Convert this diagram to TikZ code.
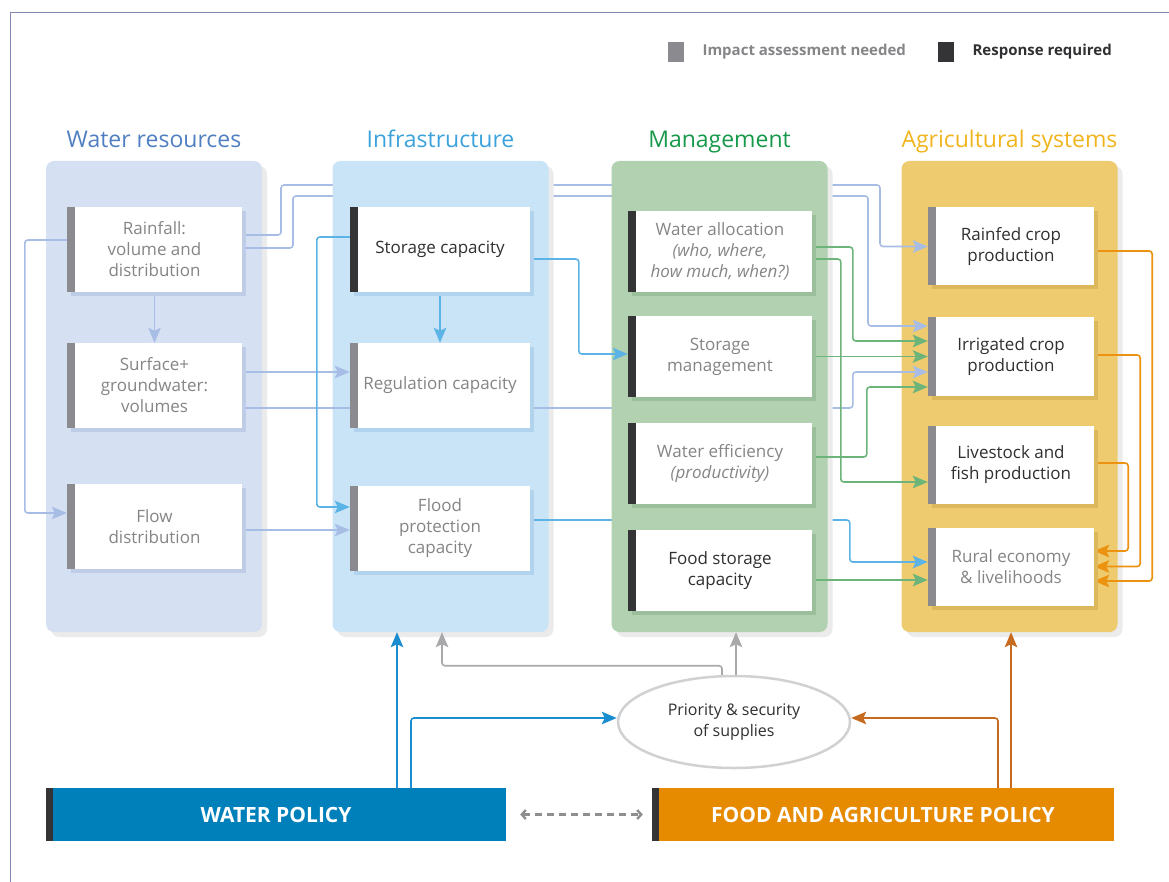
\documentclass[tikz,border=0pt]{standalone}
\usepackage{fontspec}
\setmainfont{Open Sans}
\usetikzlibrary{positioning,arrows.meta,calc,shapes.geometric,shadows}

\definecolor{framec}{HTML}{8088B0}
\definecolor{impactc}{HTML}{8B8A8F}
\definecolor{respc}{HTML}{343335}
\definecolor{greytext}{HTML}{858588}
\definecolor{darktext}{HTML}{303032}
\definecolor{wrtitle}{HTML}{4F7FC1}
\definecolor{wrpanel}{HTML}{D5E0F2}
\definecolor{wrshade}{HTML}{BFCCE6}
\definecolor{intitle}{HTML}{3BA2DC}
\definecolor{inpanel}{HTML}{C9E4F7}
\definecolor{inshade}{HTML}{B2D3EE}
\definecolor{mgtitle}{HTML}{17994A}
\definecolor{mgpanel}{HTML}{B2D1B0}
\definecolor{mgshade}{HTML}{9CBF9B}
\definecolor{agtitle}{HTML}{F0B41C}
\definecolor{agpanel}{HTML}{EFCB6F}
\definecolor{agshade}{HTML}{DDB75C}
\definecolor{wrline}{HTML}{A8BDE6}
\definecolor{infline}{HTML}{5CB3E6}
\definecolor{mgline}{HTML}{6CB47A}
\definecolor{agline}{HTML}{EB9211}
\definecolor{wpolc}{HTML}{0080BB}
\definecolor{fpolc}{HTML}{E68A00}
\definecolor{wpolline}{HTML}{1A8CD0}
\definecolor{fpolline}{HTML}{C56A1F}
\definecolor{prioline}{HTML}{A9A9AB}
\definecolor{priodraw}{HTML}{D0D1D3}
\definecolor{dashc}{HTML}{8E8E91}

\pgfdeclarelayer{outerpanels}
\pgfdeclarelayer{farwires}
\pgfdeclarelayer{infrapanel}
\pgfdeclarelayer{midwires}
\pgfdeclarelayer{mgmtpanel}
\pgfdeclarelayer{wires}
\pgfsetlayers{outerpanels,farwires,infrapanel,midwires,mgmtpanel,wires,main}

\tikzset{
    x=1pt,
    y=-1pt,
    on grid,
    >={Stealth[length=15pt,width=12.5pt,inset=3pt]},
    panel/.style = {
        shape=rectangle,
        fill=#1,
        rounded corners=8pt,
        minimum width=216pt,
        minimum height=471pt,
        general shadow={fill=black!8, shadow xshift=5pt, shadow yshift=-5pt}
    },
    title/.style = {
        text=#1,
        anchor=base,
        font=\fontsize{23}{27}\selectfont
    },
    block/.style = {
        shape=rectangle,
        fill=white,
        align=center,
        inner sep=0pt,
        font=\fontsize{17}{21}\selectfont,
        general shadow={fill=#1, shadow xshift=4pt, shadow yshift=-4pt}
    },
    wrbox/.style = {block=wrshade, minimum width=175pt, minimum height=85pt},
    inbox/.style = {block=inshade, minimum width=180pt, minimum height=85pt},
    mgbox/.style = {block=mgshade, minimum width=184pt, minimum height=81pt},
    agbox/.style = {block=agshade, minimum width=166pt, minimum height=78pt},
    impact/.style = {
        path picture={\fill[impactc] (path picture bounding box.north west)
            rectangle ([xshift=8pt]path picture bounding box.south west);}
    },
    response/.style = {
        path picture={\fill[respc] (path picture bounding box.north west)
            rectangle ([xshift=8pt]path picture bounding box.south west);}
    },
    key/.style = {
        fill=#1,
        minimum width=16pt,
        minimum height=20pt,
        inner sep=0pt
    },
    legend/.style = {
        anchor=west,
        text=#1,
        font=\fontsize{15}{18}\selectfont\bfseries
    },
    policy/.style = {
        shape=rectangle,
        fill=#1,
        text=white,
        minimum height=53pt,
        font=\fontsize{21}{24}\selectfont\bfseries,
        path picture={\fill[respc] (path picture bounding box.north west)
            rectangle ([xshift=7pt]path picture bounding box.south west);}
    },
    prio/.style = {
        shape=ellipse,
        draw=priodraw,
        line width=2.5pt,
        fill=white,
        align=center,
        text=darktext,
        minimum width=232pt,
        minimum height=92pt,
        font=\fontsize{16}{21}\selectfont
    },
    wire/.style = {
        draw=#1,
        line width=1.6pt,
        rounded corners=3pt,
        ->
    },
}

\begin{document}
\begin{tikzpicture}
    \useasboundingbox (0,0) rectangle (1169,882);
    \draw[framec, line width=1pt] (10,882) |- (1169,13);

    \node[key=impactc] (impkey) at (676,52) {};
    \node[legend=greytext] (implabel) at (699,52) {Impact assessment needed};
    \node[key=respc] (reskey) at (946,52) {};
    \node[legend=darktext] (reslabel) at (969,52) {Response required};

    \begin{pgfonlayer}{outerpanels}
        \node[panel=wrpanel] (wpanel) at (154,396.5) {};
        \node[panel=agpanel] (apanel) at (1009.5,396.5) {};
    \end{pgfonlayer}
    \begin{pgfonlayer}{infrapanel}
        \node[panel=inpanel] (ipanel) at (440.5,396.5) {};
    \end{pgfonlayer}
    \begin{pgfonlayer}{mgmtpanel}
        \node[panel=mgpanel] (mpanel) at (719.5,396.5) {};
    \end{pgfonlayer}

    \node[title=wrtitle] (wtitle) at ([yshift=13pt]wpanel.north) {Water resources};
    \node[title=intitle] (ititle) at ([yshift=13pt]ipanel.north) {Infrastructure};
    \node[title=mgtitle] (mtitle) at ([yshift=13pt]mpanel.north) {Management};
    \node[title=agtitle] (atitle) at ([yshift=13pt]apanel.north) {Agricultural systems};

    \node[wrbox, impact, text=greytext] (rain) at (154.5,249.5) {Rainfall:\\volume and\\distribution};
    \node[wrbox, impact, text=greytext, below=136pt of rain] (surf) {Surface+\\groundwater:\\volumes};
    \node[wrbox, impact, text=greytext, below=141pt of surf] (flow) {Flow\\distribution};

    \node[inbox, response, text=darktext] (stor) at (440,249.5) {Storage capacity};
    \node[inbox, impact, text=greytext, below=136pt of stor] (regu) {Regulation capacity};
    \node[inbox, impact, text=greytext, below=143pt of regu] (flood) {Flood\\protection\\capacity};

    \node[mgbox, response, text=greytext] (alloc) at (720,251.5) {Water allocation\\\textit{(who, where,}\\\textit{how much, when?)}};
    \node[mgbox, response, text=greytext, below=105pt of alloc] (smgmt) {Storage\\management};
    \node[mgbox, response, text=greytext, below=107pt of smgmt] (eff) {Water efficiency\\\textit{(productivity)}};
    \node[mgbox, response, text=darktext, below=107pt of eff] (food) {Food storage\\capacity};

    \node[agbox, impact, text=darktext] (rainfed) at (1011,246.5) {Rainfed crop\\production};
    \node[agbox, impact, text=darktext, below=110pt of rainfed] (irrig) {Irrigated crop\\production};
    \node[agbox, impact, text=darktext, below=108.5pt of irrig] (live) {Livestock and\\fish production};
    \node[agbox, impact, text=greytext, below=101.5pt of live] (rural) {Rural economy\\\& livelihoods};

    \node[policy=wpolc, minimum width=460pt] (wpol) at (276,814.5) {WATER POLICY};
    \node[policy=fpolc, minimum width=462pt] (fpol) at (883,814.5) {FOOD AND AGRICULTURE POLICY};
    \node[prio] (prio) at (734,722) {Priority \& security\\of supplies};

    \begin{pgfonlayer}{farwires}
        \draw[wire=wrline] ([yshift=14.5pt]rain.east) -| (281,185) -- (880,185) |- (rainfed.west);
        \draw[wire=wrline] ([yshift=1.5pt]rain.east) -| (293,196) -- (868,196) |- ([yshift=30.5pt]irrig.west);
    \end{pgfonlayer}
    \begin{pgfonlayer}{midwires}
        \draw[wire=wrline] ([yshift=-22.5pt]surf.east) -| ([xshift=-75pt,yshift=-15.5pt]irrig.west) -- ([yshift=-15.5pt]irrig.west);
        \draw[wire=infline] ([yshift=8.5pt]flood.east) -| ([xshift=-78pt,yshift=4.5pt]rural.west) -- ([yshift=4.5pt]rural.west);
    \end{pgfonlayer}
    \begin{pgfonlayer}{wires}
        \draw[wire=wrline] (rain.south) -- (surf.north);
        \draw[wire=wrline] ([yshift=9.5pt]rain.west) -| ([xshift=-42pt,yshift=13.5pt]flow.west) -- ([yshift=13.5pt]flow.west);
        \draw[wire=wrline] ([yshift=13.5pt]surf.east) -- ([yshift=13.5pt]regu.west);
        \draw[wire=wrline] ([yshift=-3.5pt]flow.east) -- ([yshift=-1.5pt]flood.west);

        \draw[wire=infline] (stor.south) -- (regu.north);
        \draw[wire=infline] ([yshift=12.5pt]stor.west) -| ([xshift=-33pt,yshift=21.5pt]flood.west) -- ([yshift=21.5pt]flood.west);
        \draw[wire=infline] ([yshift=-9.5pt]stor.east) -| ([xshift=-49pt,yshift=2.5pt]smgmt.west) -- ([yshift=2.5pt]smgmt.west);

        \draw[wire=mgline] ([yshift=4.5pt]alloc.east) -| ([xshift=-75pt,yshift=15.5pt]irrig.west) -- ([yshift=15.5pt]irrig.west);
        \draw[wire=mgline] ([yshift=-7.5pt]alloc.east) -| ([xshift=-87pt,yshift=-17pt]live.west) -- ([yshift=-17pt]live.west);
        \draw[wire=mgline] (smgmt.east) -- (irrig.west);
        \draw[wire=mgline] ([yshift=6.5pt]eff.east) -| ([xshift=-61pt,yshift=-30.5pt]irrig.west) -- ([yshift=-30.5pt]irrig.west);
        \draw[wire=mgline] ([yshift=-9.5pt]food.east) -- ([yshift=-13.5pt]rural.west);

        \draw[wire=agline] ([yshift=-4.5pt]rainfed.east) -| ([xshift=58pt,yshift=-14.5pt]rural.east) -- ([yshift=-14.5pt]rural.east);
        \draw[wire=agline] ([yshift=1.5pt]irrig.east) -| ([xshift=46pt]rural.east) -- (rural.east);
        \draw[wire=agline] ([yshift=2pt]live.east) -| ([xshift=34pt,yshift=15.5pt]rural.east) -- ([yshift=15.5pt]rural.east);

        \draw[wire=wpolline] ([xshift=121pt]wpol.north) -- ([xshift=-43.5pt]ipanel.south);
        \draw[wire=wpolline] ([xshift=135pt]wpol.north) |- ([yshift=4pt]prio.west);
        \draw[wire=fpolline] ([xshift=115pt]fpol.north) |- ([yshift=4pt]prio.east);
        \draw[wire=fpolline] ([xshift=128pt]fpol.north) -- ([xshift=1.5pt]apanel.south);
        \draw[wire=prioline] ([xshift=-12pt]prio.north) -- ++(0,-9) -| ([xshift=1.5pt]ipanel.south);
        \draw[wire=prioline] ([xshift=2pt]prio.north) -- ([xshift=16.5pt]mpanel.south);
        \draw[draw=dashc, line width=2.4pt, dash pattern=on 7pt off 5pt,
            {Straight Barb[length=4pt,width=9pt]}-{Straight Barb[length=4pt,width=9pt]}]
            ([xshift=14pt]wpol.east) -- ([xshift=-9pt]fpol.west);
    \end{pgfonlayer}
\end{tikzpicture}
\end{document}
